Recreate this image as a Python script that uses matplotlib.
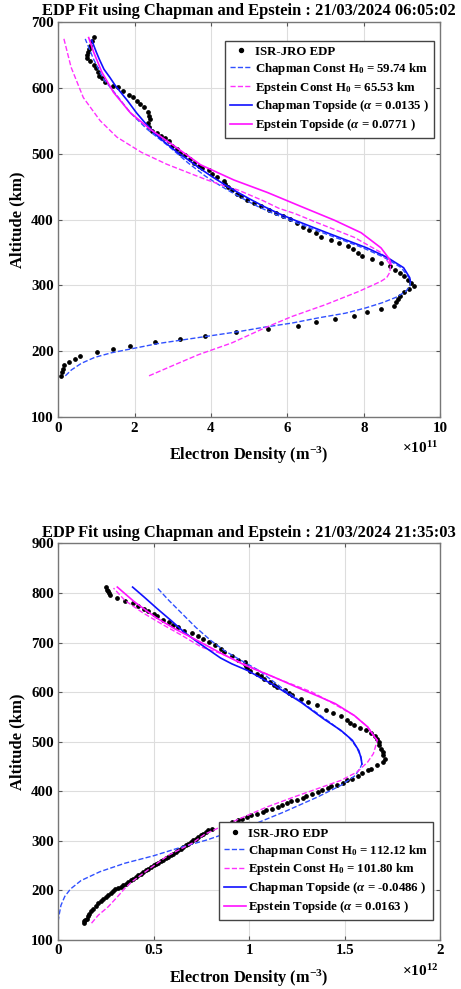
import numpy as np
import matplotlib
matplotlib.use("Agg")
import matplotlib.pyplot as plt

plt.rcParams['font.family'] = ['Liberation Serif', 'DejaVu Serif']
plt.rcParams['font.weight'] = 'bold'
plt.rcParams['mathtext.fontset'] = 'custom'
plt.rcParams['mathtext.rm'] = 'Liberation Serif:bold'
plt.rcParams['mathtext.bf'] = 'Liberation Serif:bold'
plt.rcParams['mathtext.it'] = 'Liberation Serif:italic'

# ---------------- top panel (x in 1e11 m^-3) ----------------
title1 = "EDP Fit using Chapman and Epstein : 21/03/2024 06:05:02"
isr1_alt = [163, 168.7, 173.8, 178.8, 183.9, 188.5, 193.5, 198.6, 203.7, 208.7, 213.8, 218.9,
            223.9, 229, 234.1, 239.1, 244.2, 249.3, 254.3, 259.4, 264.5, 269.5, 274.6, 279.7,
            284.7, 289.8, 294.8, 299.4, 304, 309, 314, 319, 324, 329, 334.4, 339.5, 344, 349.6,
            354.7, 359.7, 364.5, 369.4, 373.4, 379.5, 383.5, 388.6, 394.7, 400.3, 405.3, 410.4,
            415, 421, 425.6, 430.1, 435.2, 439.3, 444.3, 449, 454, 458.5, 465, 469, 474.7, 478.8,
            481.3, 486.4, 491.5, 497.5, 501.6, 507.7, 511.7, 519.3, 524.4, 527, 531, 534.5, 540,
            546.2, 552.2, 557.3, 563.4, 570, 575, 580.1, 585.2, 588.7, 595.3, 600.4, 602.9, 608,
            614, 618.1, 623.2, 629.3, 634.3, 640.9, 645, 650, 653.6, 658, 663.7, 671.3, 676.4]
isr1_ne = [0.07, 0.10, 0.13, 0.16, 0.29, 0.44, 0.57, 1.01, 1.44, 1.88, 2.54, 3.20,
           3.85, 4.65, 5.48, 6.29, 6.76, 7.25, 7.73, 8.09, 8.44, 8.78, 8.84, 8.89,
           8.94, 9.06, 9.19, 9.30, 9.23, 9.16, 9.05, 8.95, 8.82, 8.68, 8.45, 8.21, 7.96, 7.84,
           7.72, 7.58, 7.36, 7.14, 6.89, 6.75, 6.57, 6.42, 6.26, 6.07, 5.88, 5.70,
           5.51, 5.32, 5.13, 4.95, 4.79, 4.67, 4.56, 4.45, 4.38, 4.34, 4.16, 4.03, 3.95, 3.77,
           3.68, 3.55, 3.46, 3.33, 3.20, 3.11, 2.98, 2.90, 2.81, 2.68, 2.59, 2.46, 2.38,
           2.34, 2.40, 2.37, 2.34, 2.24, 2.15, 2.06, 1.96, 1.85, 1.71, 1.58, 1.43, 1.23,
           1.15, 1.08, 1.04, 1.00, 0.93, 0.84, 0.75, 0.76, 0.77, 0.80, 0.84, 0.88, 0.95]

chap_const1_alt = [163, 172, 182, 191, 198, 205, 212, 218, 224, 230, 237, 243, 251, 258, 266,
                   274, 282, 291, 300, 306, 312, 327, 343, 357, 368, 379, 388, 400, 410, 420,
                   431, 442, 453, 466, 486, 509, 537, 562, 588, 613, 643, 674]
chap_const1_ne = [0.19, 0.35, 0.61, 0.96, 1.40, 2.01, 2.62, 3.32, 4.02, 4.72, 5.42, 6.12, 6.82,
                  7.52, 8.05, 8.49, 8.84, 9.10, 9.21, 9.22, 9.18, 8.98, 8.52, 7.98, 7.48, 6.97,
                  6.56, 6.02, 5.60, 5.22, 4.86, 4.52, 4.20, 3.85, 3.40, 2.94, 2.33, 1.89, 1.54,
                  1.19, 0.93, 0.71]
chap_top1_alt = [306, 312, 327, 343, 357, 368, 379, 388, 400, 410, 420, 431, 442, 453, 465,
                 478, 490, 502, 515, 527, 545, 562, 580, 603, 616, 628, 643, 654, 672]
chap_top1_ne = [9.22, 9.20, 9.04, 8.60, 8.08, 7.58, 7.08, 6.68, 6.15, 5.74, 5.38, 5.02, 4.68,
                4.36, 4.03, 3.70, 3.42, 3.12, 2.84, 2.59, 2.30, 2.05, 1.82, 1.50, 1.35, 1.20,
                1.08, 1.00, 0.88]
eps_const1_alt = [163, 180, 195, 213, 236, 253, 271, 291, 306, 312, 320, 331, 350, 373, 395,
                  409, 417, 429, 445, 452, 460, 469, 484, 502, 525, 550, 585, 631, 677]
eps_const1_ne = [2.38, 3.06, 3.67, 4.55, 5.42, 6.12, 7.00, 7.87, 8.44, 8.60, 8.68, 8.70, 8.45,
                 7.75, 6.79, 6.20, 5.78, 5.35, 4.70, 4.30, 3.90, 3.50, 2.84, 2.18, 1.54, 1.10,
                 0.66, 0.34, 0.14]
eps_top1_alt = [332, 340, 357, 380, 399, 420, 441, 460, 483, 512, 537, 562, 593, 623, 654, 676]
eps_top1_ne = [8.71, 8.67, 8.45, 7.93, 7.23, 6.35, 5.48, 4.60, 3.73, 3.03, 2.41, 1.89, 1.45,
               1.15, 0.93, 0.80]
lab1 = ['ISR-JRO EDP', r'Chapman Const H$_0$ = 59.74 km', r'Epstein Const H$_0$ = 65.53 km',
        r'Chapman Topside ($\alpha$ = 0.0135 )', r'Epstein Topside ($\alpha$ = 0.0771 )']

# ---------------- bottom panel (x in 1e12 m^-3) ----------------
title2 = "EDP Fit using Chapman and Epstein : 21/03/2024 21:35:03"
isr2_alt = [134.4, 138, 141, 143.1, 148, 153.2, 158, 163.3, 169, 174.7, 179, 183.4, 187.5,
            191.5, 195, 198.9, 202, 205, 208, 210.3, 214, 217.1, 220.5, 223.8, 227, 230.5,
            234, 237.2, 240.5, 243.9, 247.5, 250.7, 253.5, 256, 259, 262.1, 265, 267.5, 271,
            274.2, 277.5, 280.9, 284, 287.6, 291, 294.3, 297.5, 301.1, 304.5, 307.8, 311, 314.5,
            318, 321.2, 324.6, 329.3, 333.3, 338, 341.4, 344.7, 348.1, 352.1, 354.8, 358.2,
            361.5, 364.9, 368.3, 371.6, 376.3, 379.7, 383, 386.4, 390.4, 393.8, 398.5, 401.9,
            406.6, 409.9, 413.3, 417.3, 422, 425.4, 430.1, 436.8, 442.2, 445.5, 452.3, 459,
            465.7, 472.4, 479.1, 485.9, 492.6, 499.3, 506, 510.7, 517.4, 524, 528, 533, 537,
            542.9, 551, 557.7, 564.4, 573.2, 579.9, 586.6, 593.3, 598, 603.4, 610.1, 615, 620.2,
            626.9, 631.7, 637, 643.7, 648, 652, 656, 660.5, 665.3, 672, 680.7, 687.5, 694.2,
            700.9, 707.6, 713.7, 719, 724.4, 731.2, 736.5, 741.2, 745.9, 752.7, 758, 763.4,
            768.1, 773.5, 779.5, 784.9, 790.3, 796.3, 800, 803.7, 807, 811.8]
isr2_ne = [0.136, 0.138, 0.142, 0.149, 0.155, 0.161, 0.170, 0.183, 0.196, 0.21, 0.222, 0.236,
           0.249, 0.262, 0.275, 0.288, 0.300, 0.314, 0.327, 0.34, 0.354, 0.367, 0.380, 0.393,
           0.406, 0.42, 0.432, 0.445, 0.458, 0.47, 0.485, 0.50, 0.512, 0.524, 0.537, 0.55,
           0.563, 0.577, 0.590, 0.603, 0.616, 0.629, 0.642, 0.655, 0.668, 0.681, 0.695, 0.708,
           0.721, 0.734, 0.747, 0.76, 0.772, 0.786, 0.805, 0.85, 0.88, 0.91, 0.94, 0.96, 0.99,
           1.01, 1.04, 1.07, 1.09, 1.12, 1.15, 1.17, 1.20, 1.22, 1.25, 1.28, 1.30, 1.33, 1.36,
           1.38, 1.41, 1.43, 1.46, 1.49, 1.51, 1.54, 1.57, 1.59, 1.62, 1.64, 1.67, 1.70, 1.71,
           1.70, 1.70, 1.69, 1.68, 1.68, 1.67, 1.66, 1.64, 1.61, 1.58, 1.55, 1.53, 1.513,
           1.478, 1.44, 1.40, 1.356, 1.31, 1.27, 1.225, 1.21, 1.19, 1.146, 1.13, 1.11, 1.076,
           1.06, 1.04, 1.006, 0.99, 0.985, 0.98, 0.98, 0.94, 0.91, 0.87, 0.85, 0.82, 0.79,
           0.76, 0.73, 0.70, 0.66, 0.63, 0.60, 0.58, 0.55, 0.52, 0.50, 0.47, 0.45, 0.42, 0.39,
           0.35, 0.31, 0.27, 0.265, 0.26, 0.255, 0.25]

chap_const2_alt = [137, 150, 170, 188, 203, 220, 238, 255, 270, 288, 302, 318, 328, 358, 388,
                   412, 432, 449, 455, 470, 490, 510, 540, 573, 603, 644, 668, 684, 704, 731,
                   758, 785, 812]
chap_const2_ne = [0.0, 0.005, 0.015, 0.035, 0.065, 0.12, 0.22, 0.35, 0.50, 0.65, 0.78, 0.90,
                  0.99, 1.18, 1.355, 1.48, 1.556, 1.583, 1.59, 1.585, 1.56, 1.52, 1.42, 1.30,
                  1.19, 1.05, 0.94, 0.87, 0.80, 0.72, 0.65, 0.58, 0.515]
chap_top2_alt = [455, 466, 482, 503, 523, 546, 580, 614, 644, 657, 669, 677, 701, 721, 745,
                 768, 792, 812]
chap_top2_ne = [1.59, 1.586, 1.574, 1.54, 1.48, 1.39, 1.27, 1.13, 0.99, 0.91, 0.85, 0.82, 0.73,
                0.66, 0.59, 0.52, 0.45, 0.39]
eps_const2_alt = [134, 150, 167, 187, 204, 217, 237, 271, 295, 314, 328, 348, 368, 388, 405,
                  422, 439, 459, 476, 489, 503, 530, 553, 577, 600, 630, 654, 677, 691, 714,
                  738, 761, 785, 810]
eps_const2_ne = [0.175, 0.21, 0.262, 0.31, 0.349, 0.384, 0.454, 0.577, 0.70, 0.77, 0.85, 0.97,
                 1.09, 1.23, 1.355, 1.48, 1.565, 1.62, 1.65, 1.66, 1.67, 1.62, 1.55, 1.44,
                 1.33, 1.13, 0.99, 0.86, 0.75, 0.65, 0.54, 0.44, 0.35, 0.29]
eps_top2_alt = [503, 513, 530, 553, 577, 592, 610, 632, 654, 677, 704, 728, 751, 782, 812]
eps_top2_ne = [1.67, 1.65, 1.62, 1.55, 1.45, 1.36, 1.25, 1.12, 0.98, 0.86, 0.73, 0.61, 0.51,
               0.40, 0.31]
lab2 = ['ISR-JRO EDP', r'Chapman Const H$_0$ = 112.12 km', r'Epstein Const H$_0$ = 101.80 km',
        r'Chapman Topside ($\alpha$ = -0.0486 )', r'Epstein Topside ($\alpha$ = 0.0163 )']


def panel(ax, title, isr, cc, ct, ec, et, labels, xlim, xticks, ylim, yticks, expo, legpos):
    ax.plot(isr[1], isr[0], 'o', color='k', markersize=2.4, label=labels[0])
    ax.plot(cc[1], cc[0], '--', color='#3050ff', lw=1.0, label=labels[1])
    ax.plot(ec[1], ec[0], '--', color='#ff30ff', lw=1.0, label=labels[2])
    ax.plot(ct[1], ct[0], '-', color='#1010ff', lw=1.2, label=labels[3])
    ax.plot(et[1], et[0], '-', color='#ff10ff', lw=1.2, label=labels[4])
    ax.set_xlim(xlim)
    ax.set_ylim(ylim)
    ax.set_xticks(xticks)
    ax.set_yticks(yticks)
    ax.set_xticklabels([('%g' % t) for t in xticks])
    ax.tick_params(direction='in', top=True, right=True, labelsize=10.8, length=3,
                   color='#555555', pad=3)
    for s in ax.spines.values():
        s.set_color('#777777')
        s.set_linewidth(1.0)
    ax.grid(True, color='#dddddd', lw=0.8)
    ax.set_axisbelow(True)
    ax.set_title(title, fontsize=11.9, fontweight='bold', pad=5)
    ax.set_xlabel(r'Electron Density (m$^{-3}$)', fontsize=11.8, fontweight='bold')
    ax.set_ylabel('Altitude (km)', fontsize=12, fontweight='bold')
    ax.xaxis.set_label_coords(0.5, -0.07)
    ax.yaxis.set_label_coords(-0.085, 0.5)
    ax.text(0.995, -0.077, expo, transform=ax.transAxes, ha='right', va='center', fontsize=11)
    leg = ax.legend(loc=legpos[0], bbox_to_anchor=legpos[1], borderaxespad=0, fontsize=9.3,
                    handlelength=1.7, handletextpad=0.2, labelspacing=0.22, borderpad=0.4,
                    fancybox=False, framealpha=1, edgecolor='#444444', markerscale=1.2)
    leg.get_frame().set_linewidth(1.0)


fig = plt.figure(figsize=(4.61, 9.89), dpi=100)
ax1 = fig.add_axes([0.126, 0.578, 0.829, 0.400])
ax2 = fig.add_axes([0.126, 0.0495, 0.829, 0.401])

panel(ax1, title1, (isr1_alt, isr1_ne), (chap_const1_alt, chap_const1_ne),
      (chap_top1_alt, chap_top1_ne), (eps_const1_alt, eps_const1_ne),
      (eps_top1_alt, eps_top1_ne), lab1, (0, 10), [0, 2, 4, 6, 8, 10], (100, 700),
      [100, 200, 300, 400, 500, 600, 700], r'$\times$10$^{11}$',
      ('upper right', (0.984, 0.952)))
panel(ax2, title2, (isr2_alt, isr2_ne), (chap_const2_alt, chap_const2_ne),
      (chap_top2_alt, chap_top2_ne), (eps_const2_alt, eps_const2_ne),
      (eps_top2_alt, eps_top2_ne), lab2, (0, 2), [0, 0.5, 1, 1.5, 2], (100, 900),
      [100, 200, 300, 400, 500, 600, 700, 800, 900], r'$\times$10$^{12}$',
      ('lower right', (0.982, 0.05)))

fig.savefig('out.png', dpi=100)
